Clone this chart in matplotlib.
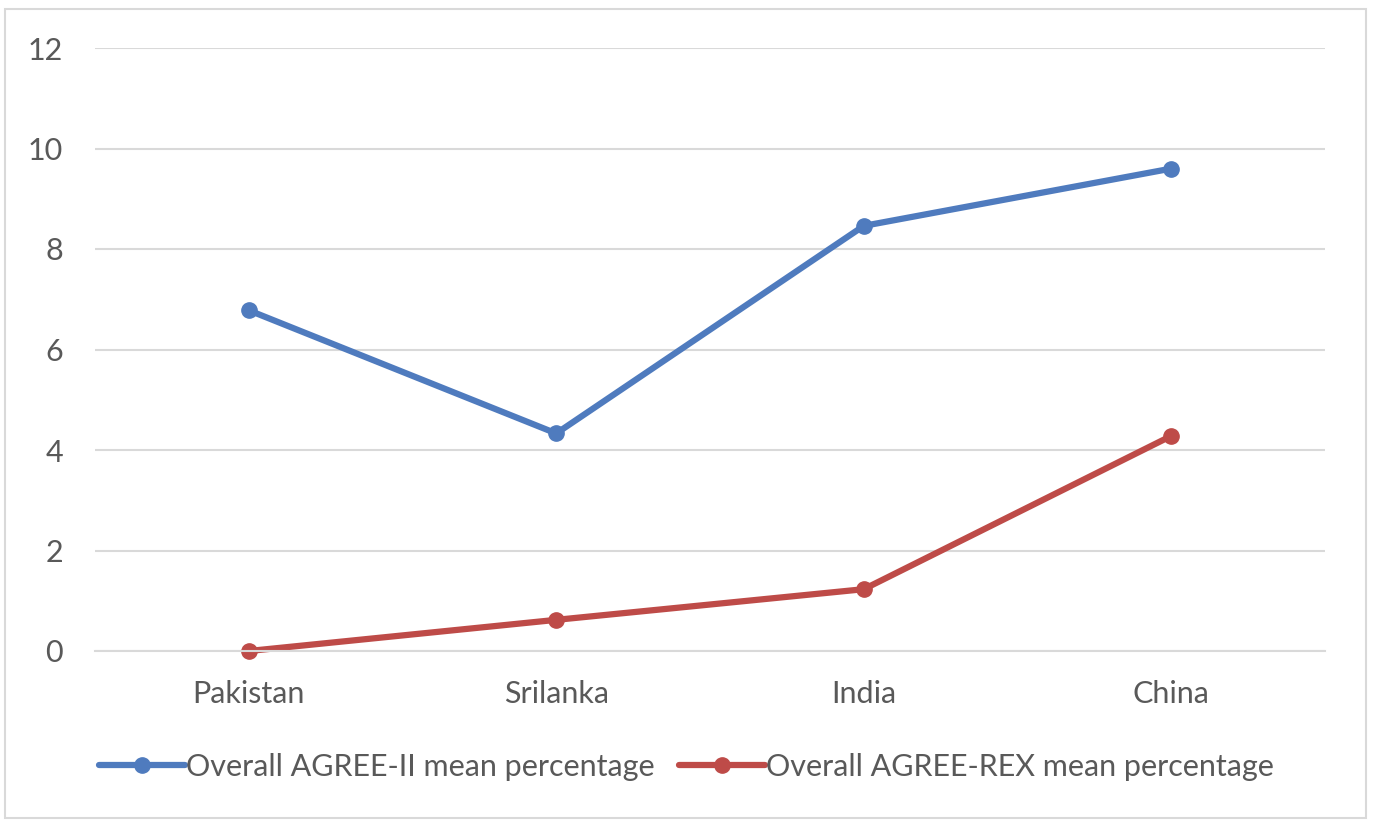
import matplotlib.pyplot as plt
from matplotlib.patches import Rectangle

countries = ['Pakistan', 'Srilanka', 'India', 'China']
agree_ii = [6.78, 4.33, 8.46, 9.6]
agree_rex = [0.0, 0.62, 1.23, 4.28]
y_ticks = [0, 2, 4, 6, 8, 10, 12]

plt.rcParams['font.family'] = ['Lato', 'DejaVu Sans']

fig = plt.figure(figsize=(13.73, 8.23), dpi=100)
ax = fig.add_axes([95 / 1373, 1 - 651 / 823, 1230 / 1373, 603 / 823])

x = range(len(countries))
ax.plot(x, agree_ii, color='#4F7BBE', linewidth=4.5, marker='o', markersize=11,
        label='Overall AGREE-II mean percentage', solid_capstyle='round')
ax.plot(x, agree_rex, color='#BE4B48', linewidth=4.5, marker='o', markersize=11,
        label='Overall AGREE-REX mean percentage', solid_capstyle='round')

ax.set_xlim(-0.5, 3.5)
ax.set_ylim(0, 12)
ax.set_yticks(y_ticks)
ax.set_xticks(list(x))
ax.set_xticklabels(countries)
ax.yaxis.grid(True, color='#D9D9D9', linewidth=1.5)
ax.set_axisbelow(True)
for s in ax.spines.values():
    s.set_visible(False)
ax.spines['bottom'].set_visible(True)
ax.spines['bottom'].set_color('#D9D9D9')
ax.spines['bottom'].set_linewidth(1.5)
ax.tick_params(axis='both', length=0, labelsize=22, labelcolor='#595959')
ax.tick_params(axis='y', pad=23)
ax.tick_params(axis='x', pad=21)
for line in ax.lines:
    line.set_clip_on(False)

leg = fig.legend(loc='center', bbox_to_anchor=(0.5, 1 - 767 / 823), ncol=2,
                 frameon=False, fontsize=22, handlelength=2.8, handletextpad=0.05,
                 columnspacing=0.8)
for t in leg.get_texts():
    t.set_color('#595959')

fig.patches.append(Rectangle((5 / 1373, 5 / 823), 1 - 12 / 1373, 1 - 14 / 823,
                             transform=fig.transFigure, fill=False,
                             edgecolor='#D9D9D9', linewidth=1.5))

fig.savefig('out.png', dpi=100)
